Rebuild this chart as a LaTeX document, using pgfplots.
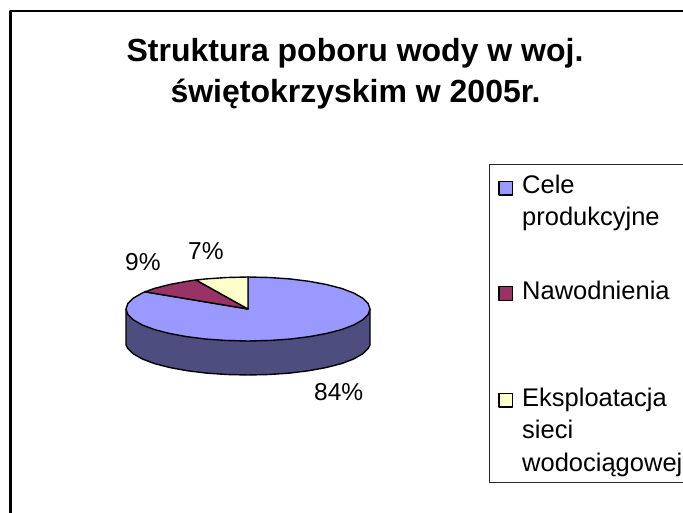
\documentclass[border=0pt]{standalone}
\usepackage{pgfplots}
\pgfplotsset{compat=1.18}
\usepackage{fontspec}
\setmainfont{Liberation Sans}
\definecolor{cblue}{HTML}{9999FF}
\definecolor{cside}{HTML}{4D4D80}
\definecolor{cmaroon}{HTML}{993366}
\definecolor{cyellow}{HTML}{FFFFCC}
\begin{document}
\begin{tikzpicture}
\path[use as bounding box] (0,0) rectangle (683pt,513pt);
\begin{axis}[
  at={(0,0)}, anchor=south west,
  scale only axis, width=683pt, height=513pt,
  xmin=0, xmax=683, ymin=0, ymax=513, y dir=reverse,
  hide axis, clip=true,
  every axis plot/.append style={line join=round}
]
% outer frame
\addplot[black, line width=2.4pt, forget plot] coordinates {(683,11) (10.5,11) (10.5,513)};
% legend box
\addplot[black!85, line width=1pt, forget plot] coordinates {(683,165) (489,165) (489,482) (683,482)};
% pie side (front rim)
\addplot[draw=black, line width=1.4pt, fill=cside, forget plot] coordinates {
 (370,309) (370,345) (368.1,348.6) (362.6,353.9) (353.7,359) (341.5,363.6) (326.4,367.5) (309,370.7)
 (289.7,373.1) (269.2,374.5) (248,375) (226.8,374.5) (206.3,373.1) (187,370.7) (169.6,367.5)
 (154.5,363.6) (142.3,359) (133.4,353.9) (127.9,348.6) (126,345) (126,309)} --cycle;
% Cele produkcyjne 84%
\addplot[draw=black, line width=1.4pt, fill=cblue, forget plot] coordinates {
 (248,309) (248,277) (269.2,277.5) (289.7,278.9) (309,281.3) (326.4,284.5) (341.5,288.4) (353.7,293)
 (362.6,298.1) (368.1,303.4) (370,309) (368.1,314.6) (362.6,319.9) (353.7,325) (341.5,329.6)
 (326.4,333.5) (309,336.7) (289.7,339.1) (269.2,340.5) (248,341) (226.8,340.5) (206.3,339.1)
 (187,336.7) (169.6,333.5) (154.5,329.6) (142.3,325) (133.4,319.9) (127.9,314.6) (126,309)
 (127.9,303.4) (133.4,298.1) (142.3,293) (145,291.8)} --cycle;
% Nawodnienia 9%
\addplot[draw=black, line width=1.4pt, fill=cmaroon, forget plot] coordinates {
 (248,309) (145,291.8) (154.5,288.4) (169.6,284.5) (187,281.3) (196,280)} --cycle;
% Eksploatacja 7%
\addplot[draw=black, line width=1.4pt, fill=cyellow, forget plot] coordinates {
 (248,309) (196,280) (206.3,278.9) (226.8,277.5) (248,277)} --cycle;
% legend swatches
\addplot[only marks, mark=square*, mark size=6.8pt, mark options={draw=black, fill=cblue, line width=1.4pt}, forget plot] coordinates {(505.8,188.3)};
\addplot[only marks, mark=square*, mark size=6.8pt, mark options={draw=black, fill=cmaroon, line width=1.4pt}, forget plot] coordinates {(505.8,293.5)};
\addplot[only marks, mark=square*, mark size=6.8pt, mark options={draw=black, fill=cyellow, line width=1.4pt}, forget plot] coordinates {(505.8,400)};
% texts
\tikzset{lab/.style={anchor=base west, inner sep=0pt, font=\fontsize{24.5}{28}\selectfont},
         leg/.style={anchor=base west, inner sep=0pt, font=\fontsize{25.5}{28}\selectfont},
         ttl/.style={anchor=base, inner sep=0pt, font=\fontsize{32}{36}\selectfont\bfseries}}
\node[ttl] at (axis cs:355,61.5) {Struktura poboru wody w woj.};
\node[ttl] at (axis cs:355.5,103) {świętokrzyskim w 2005r.};
\node[lab] at (axis cs:188,260) {7\%};
\node[lab] at (axis cs:125,270) {9\%};
\node[lab] at (axis cs:314,400) {84\%};
\node[leg] at (axis cs:522,193.3) {Cele};
\node[leg] at (axis cs:522,226) {produkcyjne};
\node[leg] at (axis cs:522,299) {Nawodnienia};
\node[leg] at (axis cs:522,406) {Eksploatacja};
\node[leg] at (axis cs:522,438) {sieci};
\node[leg] at (axis cs:522,471) {wodociągowej};
\end{axis}
\end{tikzpicture}
\end{document}
